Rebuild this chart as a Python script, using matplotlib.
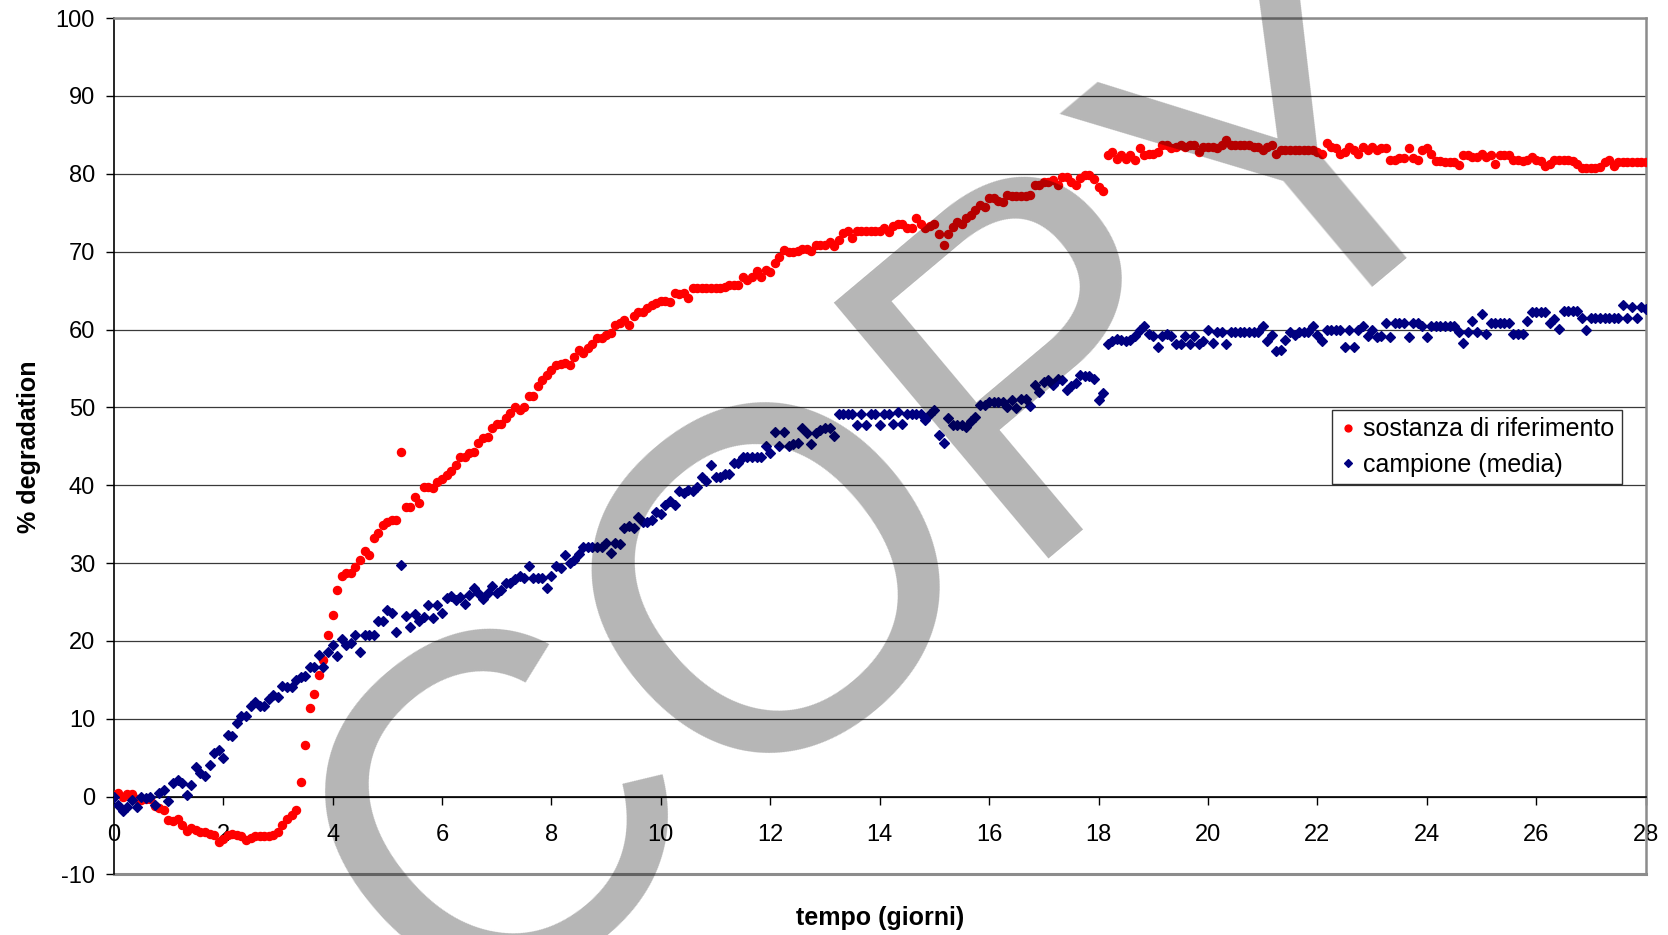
import numpy as np
import matplotlib.pyplot as plt

plt.rcParams['font.family'] = ['Liberation Sans', 'DejaVu Sans']
plt.rcParams['axes.unicode_minus'] = False

# % degradation, one reading every 2 hours (12 per day) from day 0 to day 28
sostanza = [
    0.2, 0.5, 0.0, 0.3, 0.3, -0.3, -0.4, -0.3, -0.3, -1.2, -1.5, -1.7,
    -3.0, -3.2, -2.9, -3.6, -4.4, -4.0, -4.3, -4.5, -4.6, -4.8, -5.0, -5.9,
    -5.4, -4.9, -4.8, -4.9, -5.1, -5.6, -5.3, -5.1, -5.1, -5.1, -5.1, -5.0,
    -4.6, -3.6, -2.9, -2.4, -1.7, 1.9, 6.6, 11.4, 13.2, 15.6, 17.5, 20.7,
    23.3, 26.6, 28.3, 28.7, 28.7, 29.5, 30.4, 31.5, 31.0, 33.2, 33.8, 34.9,
    35.3, 35.5, 35.5, 44.3, 37.2, 37.2, 38.5, 37.7, 39.8, 39.8, 39.6, 40.4,
    40.8, 41.3, 41.8, 42.6, 43.6, 43.6, 44.1, 44.3, 45.4, 46.0, 46.2, 47.3,
    47.9, 47.9, 48.6, 49.3, 50.1, 49.6, 50.1, 51.4, 51.4, 52.7, 53.5, 54.2,
    54.8, 55.4, 55.6, 55.7, 55.5, 56.5, 57.4, 57.0, 57.6, 58.2, 58.9, 58.9,
    59.3, 59.5, 60.6, 60.8, 61.2, 60.6, 61.7, 62.3, 62.3, 62.8, 63.2, 63.4,
    63.6, 63.6, 63.5, 64.7, 64.6, 64.7, 64.1, 65.3, 65.3, 65.3, 65.3, 65.3,
    65.3, 65.3, 65.4, 65.7, 65.7, 65.7, 66.8, 66.3, 66.8, 67.5, 66.8, 67.6,
    67.4, 68.5, 69.3, 70.2, 70.0, 70.0, 70.1, 70.4, 70.4, 70.1, 70.9, 70.9,
    70.9, 71.3, 70.7, 71.5, 72.4, 72.6, 71.7, 72.6, 72.6, 72.6, 72.6, 72.6,
    72.6, 73.0, 72.5, 73.3, 73.5, 73.5, 73.0, 73.0, 74.3, 73.6, 73.0, 73.3,
    73.6, 72.3, 70.8, 72.3, 73.2, 73.8, 73.6, 74.3, 74.7, 75.3, 76.0, 75.8,
    76.9, 76.9, 76.5, 76.4, 77.3, 77.1, 77.1, 77.2, 77.2, 77.3, 78.6, 78.6,
    79.0, 79.0, 79.2, 78.6, 79.6, 79.6, 79.0, 78.6, 79.4, 79.8, 79.8, 79.3,
    78.3, 77.8, 82.4, 82.8, 81.9, 82.4, 81.9, 82.4, 81.8, 83.3, 82.4, 82.6,
    82.6, 82.8, 83.7, 83.7, 83.3, 83.5, 83.7, 83.5, 83.7, 83.7, 82.8, 83.5,
    83.5, 83.4, 83.3, 83.7, 84.3, 83.7, 83.7, 83.7, 83.7, 83.7, 83.5, 83.5,
    83.1, 83.5, 83.7, 82.6, 83.0, 83.0, 83.0, 83.0, 83.0, 83.0, 83.0, 83.0,
    82.8, 82.6, 83.9, 83.5, 83.3, 82.6, 82.8, 83.5, 83.1, 82.6, 83.5, 83.1,
    83.5, 83.1, 83.3, 83.3, 81.8, 81.8, 82.0, 82.0, 83.3, 82.0, 81.8, 83.1,
    83.3, 82.6, 81.6, 81.6, 81.5, 81.5, 81.5, 81.1, 82.4, 82.4, 82.2, 82.2,
    82.6, 82.2, 82.4, 81.3, 82.4, 82.4, 82.4, 81.8, 81.8, 81.6, 81.8, 82.2,
    81.8, 81.6, 81.0, 81.3, 81.8, 81.8, 81.8, 81.8, 81.6, 81.3, 80.7, 80.7,
    80.7, 80.7, 80.9, 81.5, 81.8, 81.0, 81.5, 81.5, 81.5, 81.5, 81.5, 81.5,
    81.5,
]

campione = [
    0.0, -1.1, -1.9, -1.3, -0.4, -1.3, 0.0, -0.2, 0.0, -1.1, 0.4, 0.9,
    -0.6, 1.7, 2.1, 1.7, 0.2, 1.5, 3.8, 3.0, 2.6, 4.1, 5.6, 6.0,
    5.0, 7.9, 7.8, 9.4, 10.3, 10.3, 11.6, 12.2, 11.6, 11.6, 12.5, 13.1,
    12.8, 14.2, 14.1, 14.1, 15.0, 15.4, 15.5, 16.7, 16.7, 18.2, 16.7, 18.6,
    19.5, 18.0, 20.3, 19.5, 19.7, 20.8, 18.6, 20.8, 20.7, 20.7, 22.5, 22.5,
    24.0, 23.6, 21.1, 29.7, 23.2, 21.8, 23.5, 22.5, 23.1, 24.6, 23.0, 24.6,
    23.6, 25.5, 25.8, 25.3, 25.7, 24.8, 25.9, 26.8, 26.2, 25.4, 26.1, 27.1,
    26.1, 26.5, 27.4, 27.4, 27.9, 28.3, 28.1, 29.6, 28.1, 28.1, 28.1, 26.8,
    28.3, 29.6, 29.4, 31.0, 30.0, 30.4, 31.1, 32.1, 32.1, 32.1, 32.1, 32.1,
    32.6, 31.3, 32.6, 32.5, 34.5, 34.7, 34.5, 35.9, 35.3, 35.3, 35.5, 36.5,
    36.3, 37.5, 38.0, 37.5, 39.2, 39.0, 39.4, 39.2, 39.8, 41.0, 40.5, 42.6,
    41.1, 41.1, 41.5, 41.5, 42.9, 42.9, 43.6, 43.6, 43.6, 43.6, 43.6, 45.0,
    44.1, 46.8, 45.0, 46.8, 45.0, 45.3, 45.4, 47.3, 46.7, 45.3, 46.7, 47.1,
    47.3, 47.4, 46.3, 49.1, 49.1, 49.1, 49.1, 47.7, 49.1, 47.7, 49.1, 49.1,
    47.7, 49.1, 49.1, 47.9, 49.4, 47.9, 49.1, 49.1, 49.1, 49.1, 48.4, 49.1,
    49.7, 46.5, 45.4, 48.6, 47.7, 47.7, 47.7, 47.5, 48.2, 48.7, 50.3, 50.3,
    50.7, 50.7, 50.7, 50.7, 50.1, 50.9, 49.9, 51.1, 51.1, 50.2, 52.9, 52.0,
    53.3, 53.5, 52.9, 53.6, 53.5, 52.2, 52.7, 53.1, 54.2, 54.0, 54.0, 53.6,
    50.9, 51.8, 58.2, 58.5, 58.8, 58.7, 58.5, 58.7, 59.2, 60.0, 60.4, 59.4,
    59.2, 57.8, 59.2, 59.4, 59.2, 58.1, 58.2, 59.2, 58.2, 59.2, 58.2, 58.5,
    59.9, 58.3, 59.7, 59.7, 58.1, 59.7, 59.7, 59.7, 59.7, 59.7, 59.7, 59.7,
    60.5, 58.5, 59.3, 57.2, 57.4, 58.7, 59.7, 59.3, 59.7, 59.7, 59.7, 60.4,
    59.3, 58.5, 59.9, 59.9, 59.9, 59.9, 57.8, 59.9, 57.8, 59.9, 60.4, 59.2,
    59.9, 59.0, 59.2, 60.8, 59.0, 60.8, 60.8, 60.8, 59.0, 60.8, 60.8, 60.4,
    59.0, 60.4, 60.4, 60.4, 60.4, 60.4, 60.4, 59.7, 58.3, 59.7, 61.1, 59.7,
    62.0, 59.4, 60.8, 60.8, 60.8, 60.8, 60.8, 59.4, 59.4, 59.4, 61.1, 62.2,
    62.2, 62.2, 62.2, 60.8, 61.3, 60.1, 62.4, 62.4, 62.4, 62.4, 61.5, 59.9,
    61.5, 61.5, 61.5, 61.5, 61.5, 61.5, 61.5, 63.1, 61.5, 62.9, 61.5, 62.9,
    62.6,
]

tempo = np.arange(len(sostanza)) / 12.0

fig = plt.figure(figsize=(16.68, 9.35), dpi=100)
ax = fig.add_axes([0.0682, 0.0648, 0.9184, 0.9158])

ax.plot(tempo, sostanza, 'o', color='#ff0000', ms=5.8, mew=1.0,
        label='sostanza di riferimento', zorder=3)
ax.plot(tempo, campione, 'D', color='#000080', ms=4.6, mew=0.9,
        label='campione (media)', zorder=4)

ax.set_xlim(0, 28)
ax.set_ylim(-10, 100)
ax.set_xticks(range(0, 29, 2))
ax.set_yticks(range(-10, 101, 10))
ax.yaxis.grid(True, color='#3a3a3a', lw=0.9)
ax.set_axisbelow(True)
ax.axhline(-10, color='#8c8c8c', lw=2.2, clip_on=False, zorder=1)

ax.spines['bottom'].set_position(('data', 0))
ax.spines['bottom'].set_color('black')
ax.spines['bottom'].set_linewidth(1.2)
ax.spines['left'].set_color('black')
ax.spines['left'].set_linewidth(1.2)
for s in ['top', 'right']:
    ax.spines[s].set_color('#8c8c8c')
    ax.spines[s].set_linewidth(1.8)

ax.tick_params(axis='x', direction='out', length=6, width=1, pad=14, labelsize=17)
ax.tick_params(axis='y', direction='out', length=5.5, width=1, pad=8, labelsize=17)

ax.set_xlabel('tempo (giorni)', fontsize=18, fontweight='bold')
ax.xaxis.set_label_coords(0.5, -0.037)
ax.set_ylabel('% degradation', fontsize=18, fontweight='bold')
ax.yaxis.set_label_coords(-0.0475, 0.5)

leg = ax.legend(loc='upper left', bbox_to_anchor=(1332 / 1668, 1 - 410 / 935),
                bbox_transform=fig.transFigure, fontsize=18, frameon=True,
                fancybox=False, borderaxespad=0, borderpad=0.3,
                handlelength=0.7, handletextpad=0.25, labelspacing=0.45,
                markerscale=0.85)
leg.get_frame().set_edgecolor('black')
leg.get_frame().set_linewidth(1)

# watermark over the whole chart
fig.text(0.541, 0.468, 'COPY', fontsize=349, rotation=40, color='black',
         alpha=0.29, ha='center', va='center', zorder=10)

fig.savefig('out.png', dpi=100)
